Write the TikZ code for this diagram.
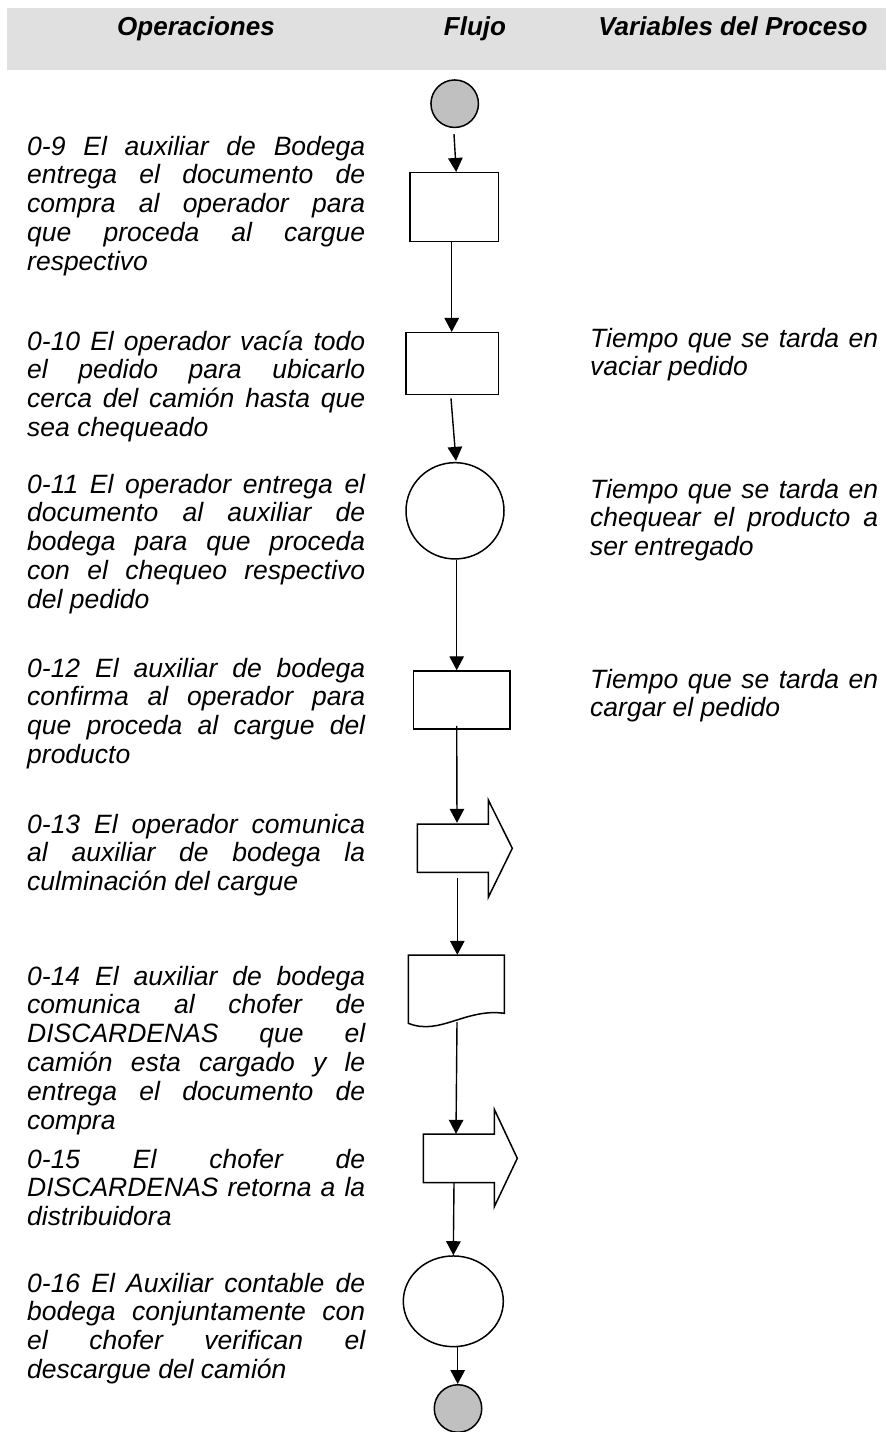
\documentclass[tikz,border=0pt]{standalone}
\usepackage{fontspec}
\setmainfont{Liberation Sans}
\usetikzlibrary{arrows.meta,shapes.geometric}
\definecolor{bandgray}{HTML}{E0E0E0}
\definecolor{termgray}{HTML}{C0C0C0}
\hyphenpenalty=10000
\exhyphenpenalty=10000
\tikzset{
  optext/.style={anchor=base west, text width=338pt, align=justify, inner sep=0pt,
    font=\fontsize{26.5}{28.8}\selectfont\itshape},
  vartext/.style={optext, text width=288pt},
  headtext/.style={anchor=base, inner sep=0pt, font=\fontsize{26}{30}\selectfont\bfseries\itshape},
  shp/.style={draw=black, line width=1.5pt, fill=white},
  procbox/.style={shp, rectangle, inner sep=0pt},
  ovalbox/.style={shp, ellipse, inner sep=0pt},
  termbox/.style={shp, circle, fill=termgray, inner sep=0pt, minimum size=47.5pt},
  anchorbox/.style={rectangle, inner sep=0pt},
  flowarr/.style={draw=black, line width=1.4pt, -{Triangle[length=14pt,width=14.5pt]}}
}
\begin{document}
\begin{tikzpicture}[x=1pt, y=-1pt]
\useasboundingbox (0,0) rectangle (886,1432);
% header band
\fill[bandgray] (7,8) rectangle (886,70);
\node[headtext] (hop) at (196,35.5) {Operaciones};
\node[headtext] (hfl) at (475,35.5) {Flujo};
\node[headtext] (hvar) at (733,35.5) {Variables del Proceso};

% flow shapes
\node[termbox] (s) at (454.7,103.7) {};
\node[procbox, minimum width=88.3pt, minimum height=69pt] (b1) at (454.2,207.2) {};
\node[procbox, minimum width=92.3pt, minimum height=61.6pt] (b2) at (452.2,363.5) {};
\node[ovalbox, minimum width=98pt, minimum height=96.3pt] (c1) at (455,510.8) {};
\node[procbox, minimum width=96.7pt, minimum height=58pt] (b3) at (461.7,700) {};
% transport 1
\draw[shp] (417.3,824) -- (488.3,824) -- (488.3,800) -- (512.3,848.3) -- (488.3,897.3) -- (488.3,872.3) -- (417.3,872.3) -- cycle;
\node[anchorbox, minimum width=71pt, minimum height=48.3pt] (t1) at (452.8,848.15) {};
% document
\draw[shp] (408.3,1023.3) -- (408.3,955) -- (504.3,955) -- (504.3,1013.3)
  .. controls (465,1008) and (440,1036) .. (408.3,1023.3) -- cycle;
\node[anchorbox, minimum width=96pt, minimum height=58.3pt] (d) at (456.3,984.15) {};
% transport 2
\draw[shp] (423.3,1134) -- (494.3,1134) -- (494.3,1109.3) -- (517.3,1158.3) -- (494.3,1206.7) -- (494.3,1182.7) -- (423.3,1182.7) -- cycle;
\node[anchorbox, minimum width=71pt, minimum height=48.7pt] (t2) at (458.8,1158.35) {};
\node[ovalbox, minimum width=100pt, minimum height=90.7pt] (c2) at (453.3,1301.3) {};
\node[termbox] (e) at (458,1408.5) {};

% connectors
\draw[flowarr] ([xshift=-0.7pt,yshift=-6pt]s.south) -- ([xshift=2pt]b1.north);
\draw[flowarr] ([xshift=-2.5pt]b1.south) -- ([xshift=-0.5pt]b2.north);
\draw[flowarr] ([xshift=-1.2pt,yshift=-3.4pt]b2.south) -- ([xshift=1pt,yshift=1pt]c1.north);
\draw[flowarr] ([xshift=1.7pt]c1.south) -- ([xshift=-5pt]b3.north);
\draw[flowarr] ([xshift=-5pt,yshift=4pt]b3.south) -- ([xshift=4.2pt,yshift=1pt]t1.north);
\draw[flowarr] ([xshift=4.5pt,yshift=-5pt]t1.south) -- ([xshift=1pt]d.north);
\draw[flowarr] ([xshift=0.7pt,yshift=-8.7pt]d.south) -- ([xshift=-2.8pt]t2.north);
\draw[flowarr] ([xshift=-4.8pt]t2.south) -- (c2.north);
\draw[flowarr] ([xshift=4.4pt]c2.south) -- ([xshift=-0.3pt]e.north);

% operations text
\node[optext] (o9) at (27,155) {0-9 El auxiliar de Bodega\linebreak entrega el documento de\linebreak compra al operador para\linebreak que proceda al cargue\linebreak respectivo};
\node[optext] (o10) at (27,350) {0-10 El operador vacía todo\linebreak el pedido para ubicarlo\linebreak cerca del camión hasta que\linebreak sea chequeado};
\node[optext] (o11) at (27,493) {0-11 El operador entrega el\linebreak documento al auxiliar de\linebreak bodega para que proceda\linebreak con el chequeo respectivo\linebreak del pedido};
\node[optext] (o12) at (27,677) {0-12 El auxiliar de bodega\linebreak confirma al operador para\linebreak que proceda al cargue del\linebreak producto};
\node[optext] (o13) at (27,833) {0-13 El operador comunica\linebreak al auxiliar de bodega la\linebreak culminación del cargue};
\node[optext] (o14) at (27,985) {0-14 El auxiliar de bodega\linebreak comunica al chofer de\linebreak DISCARDENAS que el\linebreak camión esta cargado y le\linebreak entrega el documento de\linebreak compra};
\node[optext] (o15) at (27,1168) {0-15 El chofer de\linebreak DISCARDENAS retorna a la\linebreak distribuidora};
\node[optext] (o16) at (27,1292) {0-16 El Auxiliar contable de\linebreak bodega conjuntamente con\linebreak el chofer verifican el\linebreak descargue del camión};

% process variables text
\node[vartext] (v10) at (590,347) {Tiempo que se tarda en\linebreak vaciar pedido};
\node[vartext] (v11) at (590,498) {Tiempo que se tarda en\linebreak chequear el producto a\linebreak ser entregado};
\node[vartext] (v12) at (590,688) {Tiempo que se tarda en\linebreak cargar el pedido};
\end{tikzpicture}
\end{document}
